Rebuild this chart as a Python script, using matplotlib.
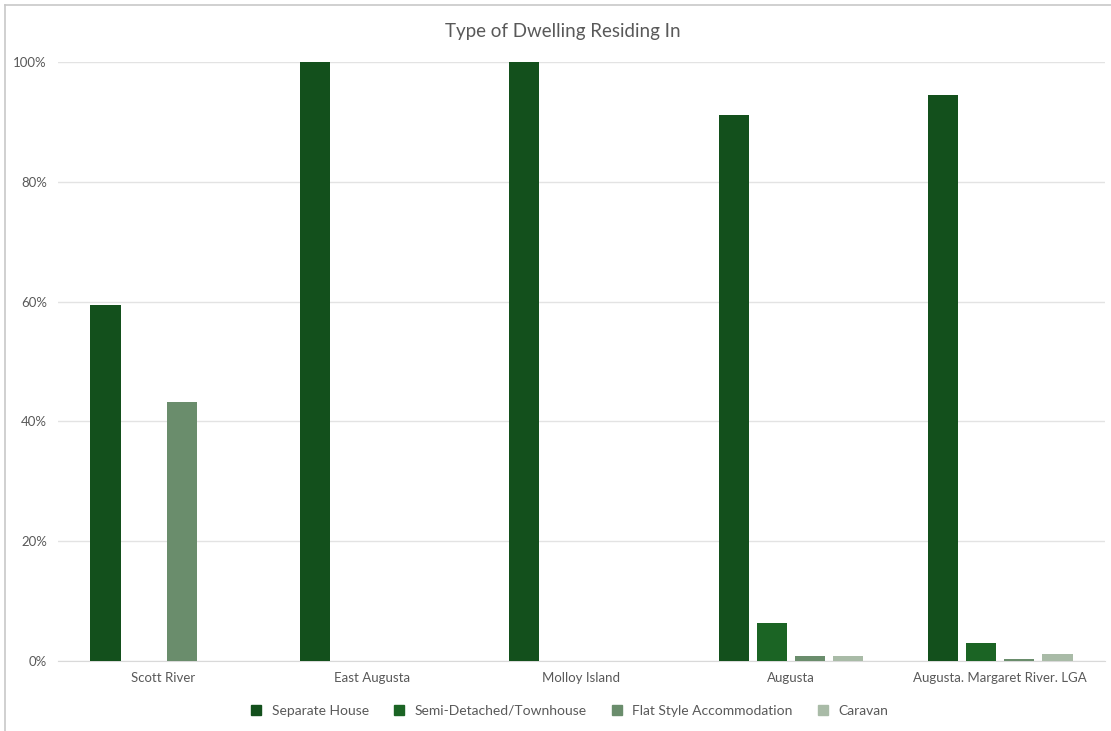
import matplotlib
matplotlib.use("Agg")
import matplotlib.pyplot as plt
import numpy as np
from matplotlib.lines import Line2D

categories = ["Scott River", "East Augusta", "Molloy Island", "Augusta", "Augusta. Margaret River. LGA"]
series_names = ["Separate House", "Semi-Detached/Townhouse", "Flat Style Accommodation", "Caravan"]
separate_house = [59.4, 100.0, 100.0, 91.2, 94.5]
semi_detached = [0.0, 0.0, 0.0, 6.3, 3.0]
flat_style = [43.2, 0.0, 0.0, 0.8, 0.3]
caravan = [0.0, 0.0, 0.0, 0.8, 1.2]
colors = ["#13501c", "#1b6424", "#6a8d6c", "#a9bba7"]

plt.rcParams['font.family'] = ['Lato', 'DejaVu Sans']

fig = plt.figure(figsize=(11.11, 7.31), dpi=100)
ax = fig.add_axes([0.0522, 0.0958, 0.9424, 0.8194])

x = np.arange(len(categories))
step = 0.182
width = 0.144
data = [separate_house, semi_detached, flat_style, caravan]
for i, (vals, name, c) in enumerate(zip(data, series_names, colors)):
    ax.bar(x + (i - 1.5) * step, vals, width=width, color=c, label=name, zorder=3)

ax.set_xlim(-0.5, len(categories) - 0.5)
ax.set_ylim(0, 100)
ax.set_yticks([0, 20, 40, 60, 80, 100])
ax.set_yticklabels([f"{v}%" for v in [0, 20, 40, 60, 80, 100]])
ax.set_xticks(x)
ax.set_xticklabels(categories)
ax.grid(axis='y', color='#e3e3e3', linewidth=1, zorder=0)
for s in ['top', 'right', 'left']:
    ax.spines[s].set_visible(False)
ax.spines['bottom'].set_color('#d9d9d9')
ax.tick_params(axis='both', length=0, colors='#595959', labelsize=9.5)
ax.tick_params(axis='x', pad=8)
ax.tick_params(axis='y', pad=8)

fig.text(0.507, 0.957, "Type of Dwelling Residing In", ha='center', va='center', fontsize=13.5, color='#595959')

handles = [Line2D([0], [0], marker='s', linestyle='', color=c, markersize=7) for c in colors]
leg = fig.legend(handles, series_names, loc='center', bbox_to_anchor=(0.509, 0.028), ncol=4, frameon=False,
                 fontsize=10, handletextpad=0.1, columnspacing=1.2, labelcolor='#595959')

# border
fig.add_artist(Line2D([0.0045, 0.0045], [0.0, 0.9932], color='#c8c8c8', linewidth=1.2, transform=fig.transFigure))
fig.add_artist(Line2D([0.0045, 1.0], [0.9932, 0.9932], color='#c8c8c8', linewidth=1.2, transform=fig.transFigure))

fig.savefig("out.png", dpi=100)
